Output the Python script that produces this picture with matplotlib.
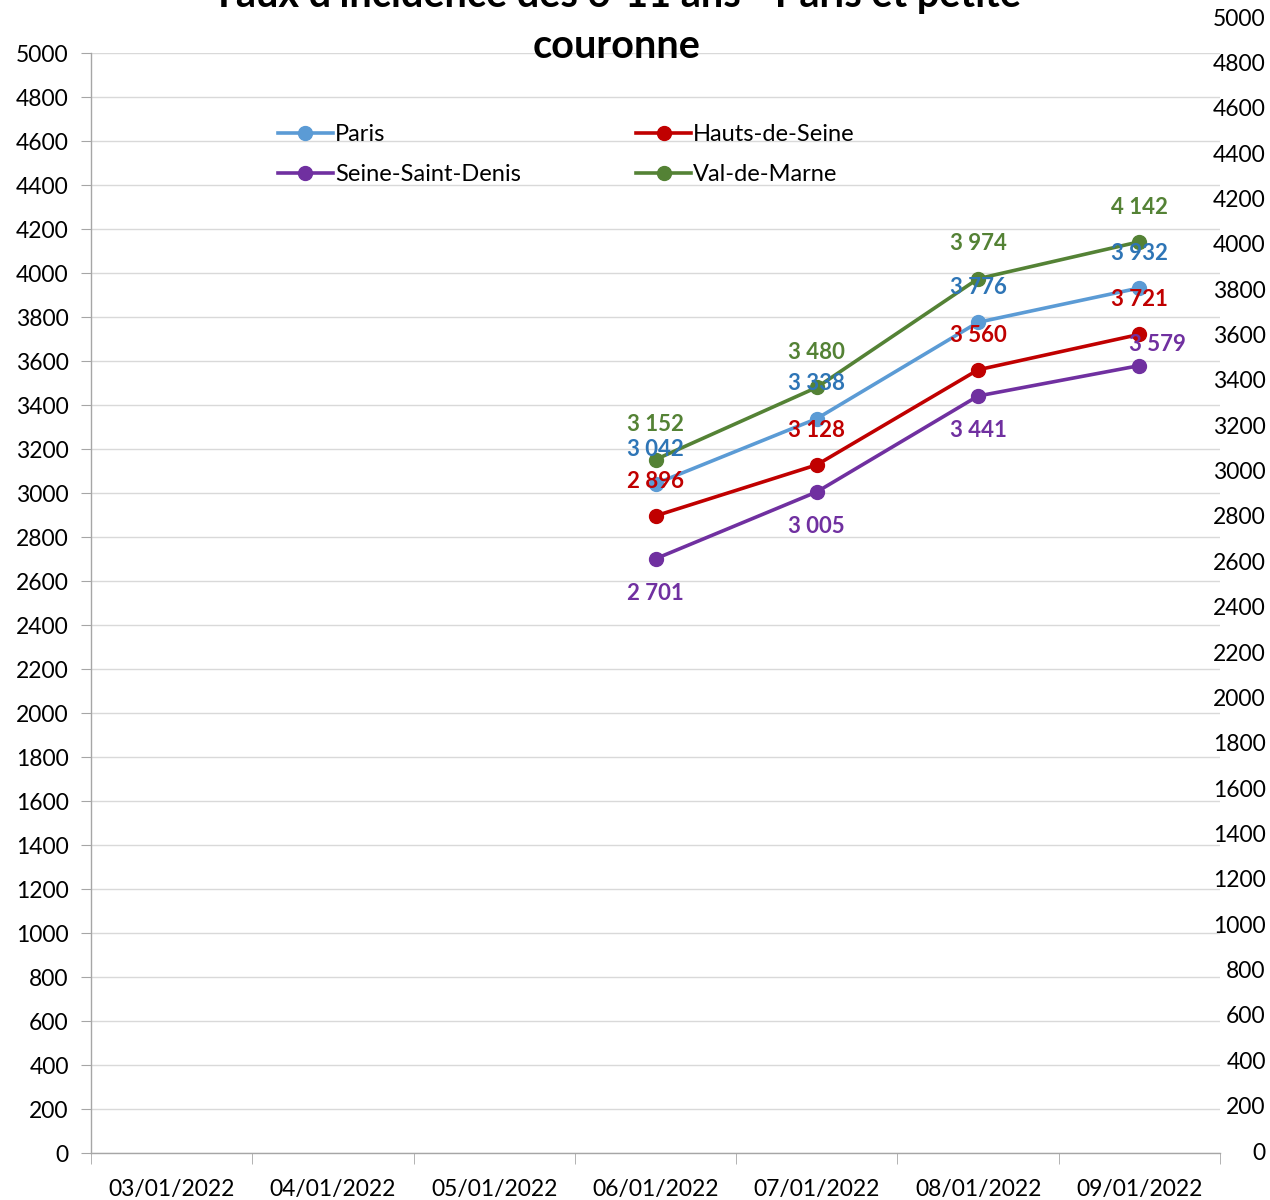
import numpy as np
import matplotlib
matplotlib.use("Agg")
import matplotlib.pyplot as plt
from matplotlib.ticker import MultipleLocator, FixedLocator

plt.rcParams['font.family'] = ['Lato', 'DejaVu Sans']

dates = ["03/01/2022", "04/01/2022", "05/01/2022", "06/01/2022",
         "07/01/2022", "08/01/2022", "09/01/2022"]
paris = [np.nan, np.nan, np.nan, 3042, 3338, 3776, 3932]
hauts_de_seine = [np.nan, np.nan, np.nan, 2896, 3128, 3560, 3721]
seine_saint_denis = [np.nan, np.nan, np.nan, 2701, 3005, 3441, 3579]
val_de_marne = [np.nan, np.nan, np.nan, 3152, 3480, 3974, 4142]
title_lines = ["Taux d'incidence des 6-11 ans - Paris et petite", "couronne"]

W, H = 1270, 1200
fig = plt.figure(figsize=(W / 100, H / 100), dpi=100)
ax = fig.add_axes([91 / W, 1 - 1153 / H, (1220 - 91) / W, (1153 - 53) / H])

x = np.arange(len(dates))
series = [
    ("Paris", paris, "#5B9BD5", "#2E75B6", 1),
    ("Hauts-de-Seine", hauts_de_seine, "#C00000", "#C00000", 1),
    ("Seine-Saint-Denis", seine_saint_denis, "#7030A0", "#7030A0", -1),
    ("Val-de-Marne", val_de_marne, "#548235", "#548235", 1),
]
handles = {}
for name, vals, col, lcol, side in series:
    h, = ax.plot(x, vals, color=col, lw=2.6, marker='o', ms=10, zorder=3, label=name)
    handles[name] = h
last = len(dates) - 1
for name, vals, col, lcol, side in series:
    for xi, v in zip(x, vals):
        if np.isnan(v):
            continue
        txt = f"{int(v):,}".replace(",", " ")
        dx, dy = 0, 25 * side
        if side < 0 and xi == last:
            dx, dy = 13, 15
        ax.annotate(txt, (xi, v), xytext=(dx, dy), textcoords='offset points',
                    ha='center', va='center', color=lcol, fontsize=16,
                    fontweight='bold', zorder=4)

ax.set_xlim(-0.5, len(dates) - 0.5)
ax.set_ylim(0, 5000)
ax.yaxis.set_major_locator(MultipleLocator(200))
ax.grid(axis='y', color='#D9D9D9', lw=1)
ax.set_axisbelow(True)
for s in ['top', 'right']:
    ax.spines[s].set_visible(False)
for s in ['left', 'bottom']:
    ax.spines[s].set_color('#A6A6A6')
    ax.spines[s].set_linewidth(1)
ax.tick_params(axis='y', length=7, color='#A6A6A6', labelsize=16.5, pad=9, labelcolor='black')
ax.set_xticks(x)
ax.set_xticklabels(dates)
ax.tick_params(axis='x', which='major', length=0, labelsize=16.5, pad=19)
ax.xaxis.set_minor_locator(FixedLocator(np.arange(-0.5, len(dates), 1.0)))
ax.tick_params(axis='x', which='minor', length=8, color='#A6A6A6')

# Secondary (right) value axis, drawn with its own extent
ax2 = fig.add_axes([91 / W, 1 - 1151 / H, (1220 - 91) / W, (1151 - 17) / H])
ax2.set_ylim(0, 5000)
ax2.patch.set_visible(False)
for s in ax2.spines.values():
    s.set_visible(False)
ax2.set_xticks([])
ax2.yaxis.tick_right()
ax2.yaxis.set_major_locator(MultipleLocator(200))
ax2.tick_params(axis='y', length=0, labelsize=16.5, pad=33)
for lab in ax2.get_yticklabels():
    lab.set_horizontalalignment('right')

order = ["Paris", "Seine-Saint-Denis", "Hauts-de-Seine", "Val-de-Marne"]
leg = ax.legend([handles[n] for n in order], order, ncol=2, frameon=False,
                fontsize=17, handlelength=2.3, handletextpad=0.1,
                columnspacing=4.9, labelspacing=0.8,
                loc='upper left', bbox_to_anchor=(166 / 1129, 1 - 50 / 1100))

fig.text(617 / W, 1 - (-4) / H, title_lines[0], ha='center', va='center',
         fontsize=28.5, fontweight='bold')
fig.text(617 / W, 1 - 46 / H, title_lines[1], ha='center', va='center',
         fontsize=28.5, fontweight='bold')

fig.savefig("out.png", dpi=100)
